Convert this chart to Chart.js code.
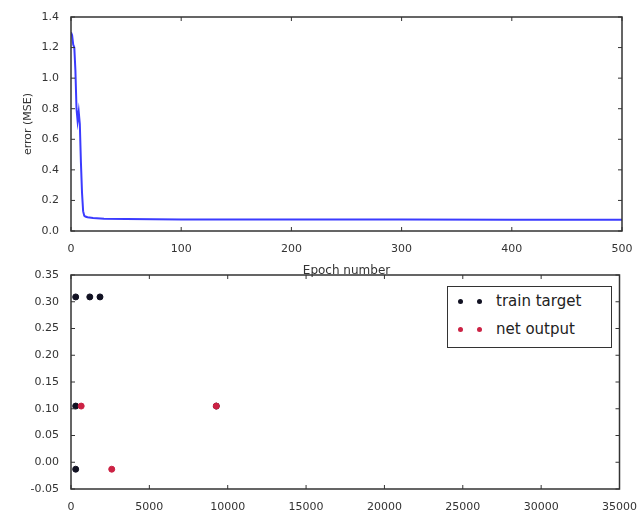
<!DOCTYPE html>
<html>
<head>
  <title>Training error and outputs</title>
  <script src="https://cdn.jsdelivr.net/npm/chart.js"></script>
  <style>
    body { margin: 0; background: #fff; width: 641px; height: 518px; overflow: hidden; position: relative; }
    canvas { position: absolute; left: 0; }
    #legend {
      position: absolute; left: 447px; top: 286px; width: 163px; height: 60px;
      border: 1px solid #333; background: #fff;
      font: 15px "DejaVu Sans", sans-serif; color: #222;
    }
    #legend div { height: 28px; line-height: 28px; white-space: nowrap; }
    #legend span.m { display: inline-block; width: 5px; height: 5px; border-radius: 50%; margin-left: 10px; margin-right: 14px; vertical-align: middle; }
  </style>
</head>
<body>
<canvas id="errChart" width="641" height="282" style="top:0"></canvas>
<canvas id="outChart" width="641" height="256" style="top:262px"></canvas>
<div id="legend"></div>

<script>
  // error curve
  const epochs = [0, 1, 2, 3, 4, 5, 6, 7, 8, 9, 10, 11, 12, 13, 15, 20, 30, 50, 100, 200, 300, 400, 500];
  const mse = [1.30, 1.28, 1.22, 1.20, 1.05, 0.80, 0.72, 0.78, 0.70, 0.45, 0.25, 0.13, 0.10, 0.095, 0.09, 0.085, 0.08, 0.078, 0.076, 0.075, 0.075, 0.074, 0.074];

  // scatter points
  const targetX = [300, 300, 300, 1200, 1850, 9270];
  const targetY = [0.309, 0.105, -0.013, 0.309, 0.309, 0.105];
  const outputX = [650, 2600, 9270];
  const outputY = [0.105, -0.013, 0.105];
  const seriesNames = ['train target', 'net output'];
  const seriesColors = ['#111122', '#cc2244'];

  const font = { family: 'DejaVu Sans', size: 11 };

  // box round the plot + small inward ticks
  const framePlugin = {
    id: 'plotframe',
    afterDatasetsDraw(chart) {
      const a = chart.chartArea, c = chart.ctx;
      c.save();
      c.strokeStyle = '#333';
      c.lineWidth = 1.5;
      c.strokeRect(a.left, a.top, a.right - a.left, a.bottom - a.top);
      c.lineWidth = 1;
      const xs = chart.scales.x, ys = chart.scales.y;
      xs.ticks.forEach(t => {
        const p = xs.getPixelForValue(t.value);
        c.beginPath(); c.moveTo(p, a.bottom); c.lineTo(p, a.bottom - 4);
        c.moveTo(p, a.top); c.lineTo(p, a.top + 4); c.stroke();
      });
      ys.ticks.forEach(t => {
        const p = ys.getPixelForValue(t.value);
        c.beginPath(); c.moveTo(a.left, p); c.lineTo(a.left + 4, p);
        c.moveTo(a.right, p); c.lineTo(a.right - 4, p); c.stroke();
      });
      c.restore();
    }
  };

  function axisX(min, max, step, title, h) {
    return {
      type: 'linear', min: min, max: max,
      grid: { display: false },
      border: { display: false },
      ticks: { stepSize: step, color: '#333', font: font, padding: 4, maxRotation: 0, callback: v => v },
      title: title ? { display: true, text: title, color: '#333', font: { family: 'DejaVu Sans', size: 12 }, padding: { top: 14 } } : { display: false },
      afterFit(s) { s.height = h; }
    };
  }
  function axisY(min, max, step, dec, title) {
    return {
      type: 'linear', min: min, max: max,
      grid: { display: false },
      border: { display: false },
      ticks: { stepSize: step, color: '#333', font: font, padding: 4, callback: v => (Math.round(v * 1000) / 1000 + 0).toFixed(dec) },
      title: title ? { display: true, text: title, color: '#333', font: { family: 'DejaVu Sans', size: 11 }, padding: { top: 22, bottom: 0 } } : { display: false },
      afterFit(s) { s.width = 71; }
    };
  }

  new Chart(document.getElementById('errChart'), {
    type: 'line',
    data: {
      datasets: [{
        label: 'error',
        data: epochs.map((e, i) => ({ x: e, y: mse[i] })),
        borderColor: '#3b3bff',
        borderWidth: 2,
        pointRadius: 0,
        tension: 0
      }]
    },
    options: {
      responsive: false, animation: false,
      layout: { padding: { top: 17, right: 19, left: 0, bottom: 0 } },
      plugins: { legend: { display: false }, tooltip: { enabled: false } },
      scales: {
        x: axisX(0, 500, 100, 'Epoch number', 282 - 231),
        y: axisY(0, 1.4, 0.2, 1, 'error (MSE)')
      }
    },
    plugins: [framePlugin]
  });

  new Chart(document.getElementById('outChart'), {
    type: 'scatter',
    data: {
      datasets: [
        { label: seriesNames[0], order: 2, data: targetX.map((x, i) => ({ x: x, y: targetY[i] })), backgroundColor: seriesColors[0], borderColor: seriesColors[0], pointRadius: 3 },
        { label: seriesNames[1], order: 1, data: outputX.map((x, i) => ({ x: x, y: outputY[i] })), backgroundColor: seriesColors[1], borderColor: seriesColors[1], pointRadius: 3 }
      ]
    },
    options: {
      responsive: false, animation: false,
      layout: { padding: { top: 13, right: 19, left: 0, bottom: 0 } },
      plugins: { legend: { display: false }, tooltip: { enabled: false } },
      scales: {
        x: axisX(0, 35000, 5000, null, 256 - 227),
        y: axisY(-0.05, 0.35, 0.05, 2, null)
      }
    },
    plugins: [framePlugin]
  });

  // legend box
  const lg = document.getElementById('legend');
  seriesNames.forEach((n, i) => {
    const row = document.createElement('div');
    row.innerHTML = '<span class="m" style="background:' + seriesColors[i] + '"></span>' +
                    '<span class="m" style="background:' + seriesColors[i] + ';margin-left:0"></span>' + n;
    lg.appendChild(row);
  });
</script>
</body>
</html>
